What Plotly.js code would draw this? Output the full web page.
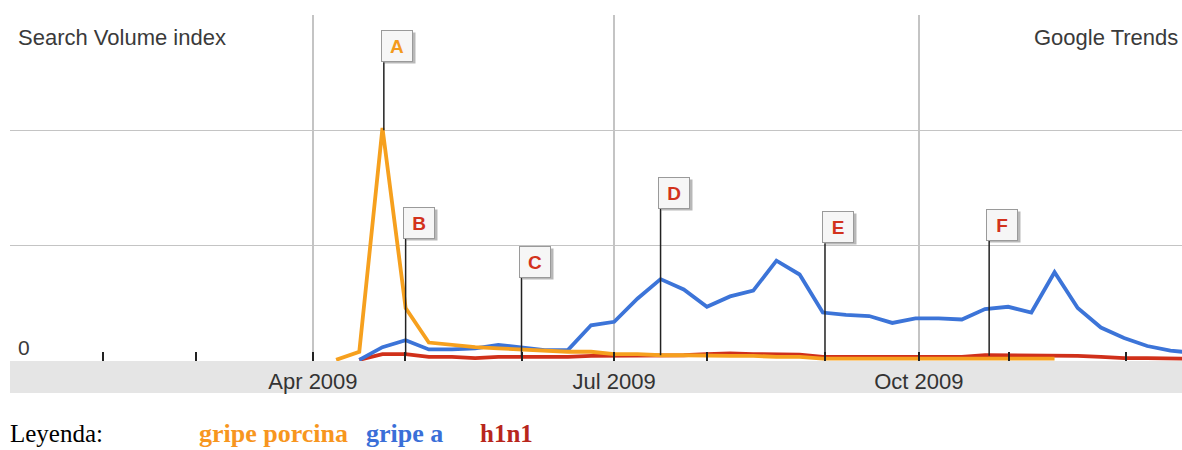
<!DOCTYPE html>
<html>
<head>
<meta charset="utf-8">
<script src="https://cdn.plot.ly/plotly-3.0.1.min.js"></script>
<style>html,body{margin:0;padding:0;background:#fff;}#chart{width:1182px;height:450px;}</style>
</head>
<body>
<div id="chart"></div>
<script>
// Weekly dates
const weeks = ['2009-04-08','2009-04-15','2009-04-22','2009-04-29','2009-05-06','2009-05-13','2009-05-20','2009-05-27',
  '2009-06-03','2009-06-10','2009-06-17','2009-06-24','2009-07-01','2009-07-08','2009-07-15','2009-07-22',
  '2009-07-29','2009-08-05','2009-08-12','2009-08-19','2009-08-26','2009-09-02','2009-09-09','2009-09-16',
  '2009-09-23','2009-09-30','2009-10-07','2009-10-14','2009-10-21','2009-10-28','2009-11-04','2009-11-11',
  '2009-11-18','2009-11-25','2009-12-02','2009-12-09','2009-12-16','2009-12-23'];

const gripePorcina = [0.01,0.08,2.02,0.46,0.16,0.14,0.12,0.11,0.10,0.09,0.08,0.08,0.06,0.06,0.05,0.05,
  0.045,0.045,0.045,0.035,0.035,0.02,0.02,0.02,0.02,0.02,0.02,0.02,0.02,0.02,0.02,0.02,
  null,null,null,null,null,null];

const gripeA = [null,0.01,0.12,0.18,0.10,0.10,0.11,0.14,0.12,0.095,0.095,0.31,0.34,0.54,0.71,0.62,
  0.47,0.56,0.61,0.87,0.75,0.42,0.40,0.39,0.33,0.37,0.37,0.36,0.45,0.47,0.42,0.77,
  0.46,0.29,0.20,0.13,0.09,0.07];

const h1n1 = [null,0.01,0.06,0.06,0.035,0.035,0.025,0.035,0.035,0.035,0.035,0.045,0.045,0.045,0.05,0.05,
  0.06,0.065,0.06,0.06,0.055,0.035,0.035,0.035,0.035,0.035,0.035,0.035,0.05,0.05,0.045,0.05,
  0.045,0.035,0.025,0.025,0.02,0.02];

const seriesNames = ['gripe porcina','gripe a','h1n1'];

// Axis ticks
const labelDates = ['2009-04-01','2009-07-01','2009-10-01'];
const labelTexts = ['Apr 2009','Jul 2009','Oct 2009'];
const minorTickDates = ['2009-01-27 13:00','2009-02-24 15:00','2009-04-28 19:00','2009-06-03 02:00',
  '2009-07-29','2009-09-02 17:00','2009-10-28 07:00','2009-12-02 14:00'];

// Event flags
const flagLetters = ['A','B','C','D','E','F'];
const flagDates = ['2009-04-22 10:00','2009-04-29','2009-06-03','2009-07-15','2009-09-02 16:00','2009-10-22 06:00'];
const flagTops = [2.59,1.06,0.72,1.32,1.02,1.04];
const flagBottoms = [2.0,0.05,0.035,0.05,0.045,0.045];

const cOrange = '#f6a01e', cBlue = '#3c74d8', cRed = '#d0301a';

const traces = [
  {x: weeks, y: h1n1, name: seriesNames[2], mode:'lines', line:{color:cRed, width:3.8}},
  {x: weeks, y: gripeA, name: seriesNames[1], mode:'lines', line:{color:cBlue, width:3.8}},
  {x: weeks, y: gripePorcina, name: seriesNames[0], mode:'lines', line:{color:cOrange, width:3.8}}
];

const shapes = [
  {type:'rect', xref:'paper', yref:'paper', x0:0, x1:1, y0:-32/346, y1:0, fillcolor:'#e5e5e5', line:{width:0}, layer:'below'}
];
flagDates.forEach((d,i)=>{
  shapes.push({type:'line', xref:'x', yref:'y', x0:d, x1:d, y0:flagBottoms[i], y1:flagTops[i], line:{color:'#222', width:1.5}});
});

const sans = 'Liberation Sans, Arial, sans-serif';
const serif = 'Liberation Serif, Times New Roman, serif';
const legY = -72;
const annotations = [
  {xref:'paper', yref:'paper', x:0, y:1, xanchor:'left', yanchor:'middle', xshift:6, yshift:-22, showarrow:false,
   text:'Search Volume index', font:{family:sans, size:22, color:'#3a3a3a'}},
  {xref:'paper', yref:'paper', x:1, y:1, xanchor:'right', yanchor:'middle', xshift:-2, yshift:-22, showarrow:false,
   text:'Google Trends', font:{family:sans, size:22, color:'#3a3a3a'}},
  {xref:'paper', yref:'y', x:0, y:0, xanchor:'left', yanchor:'middle', xshift:6, yshift:14, showarrow:false,
   text:'0', font:{family:sans, size:21, color:'#3a3a3a'}},
  {xref:'paper', yref:'paper', x:0, y:0, xanchor:'left', yanchor:'middle', xshift:-2, yshift:legY, showarrow:false,
   text:'Leyenda:', font:{family:serif, size:25, color:'#000'}},
  {xref:'paper', yref:'paper', x:0, y:0, xanchor:'left', yanchor:'middle', xshift:187, yshift:legY, showarrow:false,
   text:'<b>'+seriesNames[0]+'</b>', font:{family:serif, size:26, color:'#f7961e'}},
  {xref:'paper', yref:'paper', x:0, y:0, xanchor:'left', yanchor:'middle', xshift:354, yshift:legY, showarrow:false,
   text:'<b>'+seriesNames[1]+'</b>', font:{family:serif, size:26, color:'#3a6fd8'}},
  {xref:'paper', yref:'paper', x:0, y:0, xanchor:'left', yanchor:'middle', xshift:468, yshift:legY, showarrow:false,
   text:'<b>'+seriesNames[2]+'</b>', font:{family:serif, size:25, color:'#b8261c'}}
];
flagDates.forEach((d,i)=>{
  annotations.push({xref:'x', yref:'y', x:d, y:flagTops[i], xanchor:'left', yanchor:'bottom', xshift:0, yshift:-2,
    showarrow:false, text:' ', width:28, height:28, bgcolor:'rgba(0,0,0,0.28)', borderpad:1, borderwidth:1, bordercolor:'rgba(0,0,0,0)'});
  annotations.push({xref:'x', yref:'y', x:d, y:flagTops[i], xanchor:'left', yanchor:'bottom', xshift:-3, yshift:0,
    showarrow:false, text:'<b>'+flagLetters[i]+'</b>', width:28, height:28, bgcolor:'#f6f6f6', borderpad:1, borderwidth:1, bordercolor:'#9a9a9a',
    font:{family:sans, size:19, color: i===0 ? '#f39a1c' : '#d2321c'}});
});

const layout = {
  width:1182, height:450,
  margin:{l:10, r:0, t:15, b:89},
  paper_bgcolor:'#fff', plot_bgcolor:'#fff',
  showlegend:false,
  xaxis:{type:'date', range:['2008-12-30 12:00','2009-12-19 12:00'],
    tickmode:'array', tickvals:labelDates, ticktext:labelTexts,
    showgrid:true, gridcolor:'#c4c4c4', gridwidth:1.5,
    ticks:'inside', ticklen:9, tickwidth:1.5, tickcolor:'#222',
    ticklabelstandoff:5,
    tickfont:{family:sans, size:22, color:'#333'},
    zeroline:false, showline:false,
    minor:{tickmode:'array', tickvals:minorTickDates, ticks:'inside', ticklen:9, tickwidth:1.5, tickcolor:'#222', showgrid:false}
  },
  yaxis:{range:[0,3], tickmode:'array', tickvals:[1,2], showticklabels:false,
    showgrid:true, gridcolor:'#c4c4c4', gridwidth:1.5, zeroline:false, showline:false, ticks:''},
  shapes: shapes,
  annotations: annotations
};

Plotly.newPlot('chart', traces, layout, {displayModeBar:false, staticPlot:true});
</script>
</body>
</html>
